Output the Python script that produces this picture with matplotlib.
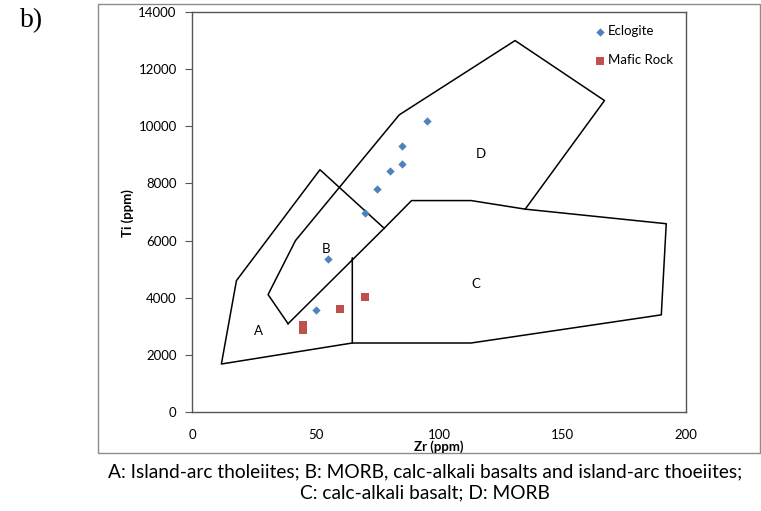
import matplotlib
matplotlib.use("Agg")
import matplotlib.pyplot as plt
from matplotlib.patches import Rectangle

# Data
eclogite_zr = [95, 85, 85, 80, 75, 70, 55, 50]
eclogite_ti = [10180, 9320, 8690, 8420, 7820, 6980, 5360, 3560]
mafic_zr = [70, 60, 45, 45]
mafic_ti = [4010, 3590, 3050, 2870]

# Field boundary lines (Zr, Ti)
line_a_zr = [64.9, 11.9, 18.0, 51.8, 77.8]
line_a_ti = [2415, 1680, 4600, 8480, 6430]
line_bd_zr = [38.9, 30.8, 41.9, 83.9, 130.8, 167.0, 134.9]
line_bd_ti = [3090, 4110, 6000, 10400, 13000, 10900, 7100]
line_c_zr = [38.9, 77.8, 88.9, 113.0, 134.9, 192.0, 190.0, 113.0, 64.9, 64.9]
line_c_ti = [3090, 6430, 7400, 7400, 7100, 6590, 3400, 2415, 2415, 5390]

field_labels = ["A", "B", "C", "D"]
field_zr = [27.0, 54.1, 115.1, 116.9]
field_ti = [2850, 5710, 4490, 9030]

x_ticks = [0, 50, 100, 150, 200]
y_ticks = list(range(0, 14001, 2000))

caption = ("A: Island-arc tholeiites; B: MORB, calc-alkali basalts and island-arc thoeiites;\n"
           "C: calc-alkali basalt; D: MORB")

W, H = 761, 511
fig = plt.figure(figsize=(W / 100, H / 100), dpi=100)
fig.patch.set_facecolor("white")
plt.rcParams['font.family'] = ['Lato', 'DejaVu Sans']

# outer chart frame
fig.patches.append(Rectangle((98 / W, 1 - 453 / H), (760 - 98) / W, (453 - 4) / H,
                             transform=fig.transFigure, fill=False,
                             edgecolor="#8c8c8c", linewidth=1.0))

ax = fig.add_axes([192 / W, 1 - 412 / H, (686 - 192) / W, (412 - 12) / H])
ax.set_xlim(0, 200)
ax.set_ylim(0, 14000)

lc = "black"
ax.plot(line_a_zr, line_a_ti, color=lc, lw=1.1)
ax.plot(line_bd_zr, line_bd_ti, color=lc, lw=1.1)
ax.plot(line_c_zr, line_c_ti, color=lc, lw=1.1)

ax.scatter(eclogite_zr, eclogite_ti, marker="D", s=18, color="#4F81BD",
           label="Eclogite", zorder=3, linewidths=0)
ax.scatter(mafic_zr, mafic_ti, marker="s", s=34, color="#C0504D",
           label="Mafic Rock", zorder=3, linewidths=0)

for t, x, y in zip(field_labels, field_zr, field_ti):
    ax.text(x, y, t, ha="center", va="center", fontsize=9.5)

ax.set_xticks(x_ticks)
ax.set_yticks(y_ticks)
ax.tick_params(axis="x", length=0, labelsize=9.5, pad=12)
ax.tick_params(axis="y", length=5, labelsize=9.5, pad=6, color="#555555")
for s in ax.spines.values():
    s.set_color("#555555")
    s.set_linewidth(1.0)

ax.set_xlabel("")
fig.text(439 / W, 1 - 447 / H, "Zr (ppm)", ha="center", va="center",
         fontsize=9.5, fontweight="bold")
fig.text(128 / W, 1 - 213 / H, "Ti (ppm)", ha="center", va="center",
         fontsize=9.5, fontweight="bold", rotation=90)

leg = ax.legend(loc="upper right", frameon=False, fontsize=9.5,
                bbox_to_anchor=(1.0, 1.0), handletextpad=0.1,
                borderaxespad=0.6, labelspacing=1.3, handlelength=1.0,
                markerscale=1.0)

fig.text(425 / W, 1 - 482 / H, caption, ha="center", va="center",
         fontsize=13.8, linespacing=1.3, fontfamily=["Lato", "DejaVu Sans"])
fig.text(20 / W, 1 - 21 / H, "b)", ha="left", va="center", fontsize=20,
         fontfamily=["Liberation Serif", "DejaVu Serif"])

fig.savefig("out.png", dpi=100, facecolor="white")
